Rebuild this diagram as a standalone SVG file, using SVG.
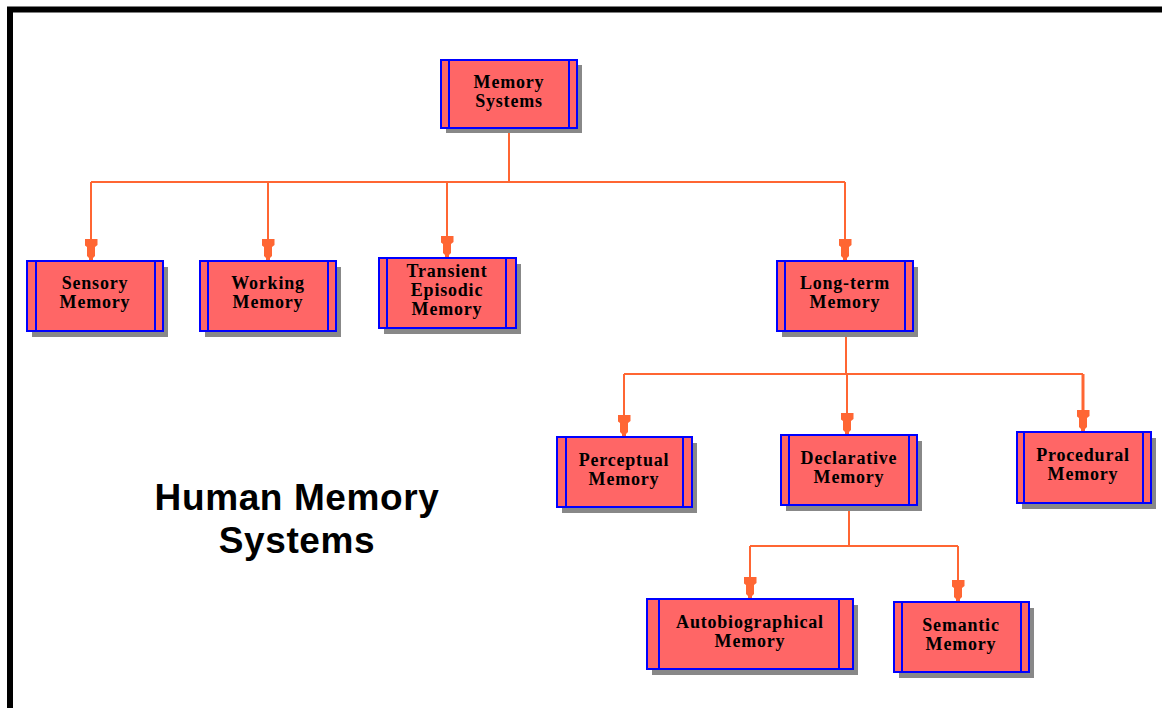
<svg xmlns="http://www.w3.org/2000/svg" width="1162" height="708" viewBox="0 0 1162 708">
<style>
.sh{fill:#888888}
.bx{fill:#FF6666;stroke:#0000FF;stroke-width:2}
.in{stroke:#0000FF;stroke-width:2}
.t{font-family:"Liberation Serif","Times New Roman",serif;font-weight:bold;font-size:18px;letter-spacing:0.8px;text-anchor:middle;fill:#000}
.c{fill:none;stroke:#FF6633;stroke-width:2}
.title{font-family:"Liberation Sans",Arial,sans-serif;font-weight:bold;font-size:37px;letter-spacing:0.6px;text-anchor:middle;fill:#000}
</style>
<defs>
<marker id="ah" markerUnits="userSpaceOnUse" markerWidth="22" markerHeight="13" refX="22" refY="6.5" orient="auto" viewBox="0 0 22 13">
<path d="M0,0 H6 L8,2.5 H17 L19,4.5 H22 V8.5 H19 L17,10.5 H8 L6,13 H0 Z" fill="#FF6633"/>
</marker>
</defs>
<rect x="0" y="0" width="1162" height="708" fill="#FFFFFF"/>
<rect x="10" y="9.5" width="1200" height="760" fill="none" stroke="#000" stroke-width="6"/>
<g id="connectors">
<path class="c" d="M509,128 V182 M91,182 H845 M846,331 V374 M624,374 H1083 M849,505 V546 M750,546 H958"/>
<path class="c" marker-end="url(#ah)" d="M91,182 V261"/>
<path class="c" marker-end="url(#ah)" d="M268,182 V261"/>
<path class="c" marker-end="url(#ah)" d="M447,182 V258"/>
<path class="c" marker-end="url(#ah)" d="M845,182 V261"/>
<path class="c" marker-end="url(#ah)" d="M624,374 V437"/>
<path class="c" marker-end="url(#ah)" d="M847,374 V435"/>
<path class="c" marker-end="url(#ah)" d="M1083,374 V432" style="stroke-width:3"/>
<path class="c" marker-end="url(#ah)" d="M750,546 V599"/>
<path class="c" marker-end="url(#ah)" d="M958,546 V602"/>
</g>
<g id="memory-systems">
<rect class="sh" x="446" y="65" width="136" height="68"/>
<rect class="bx" x="441" y="60" width="136" height="68"/>
<path class="in" d="M449,60 V128 M569,60 V128"/>
<text class="t" x="509" y="88">Memory</text>
<text class="t" x="509" y="107">Systems</text>
</g>
<g id="sensory">
<rect class="sh" x="32" y="267" width="136" height="70"/>
<rect class="bx" x="27" y="261" width="136" height="70"/>
<path class="in" d="M36,261 V331 M155,261 V331"/>
<text class="t" x="95" y="289">Sensory</text>
<text class="t" x="95" y="308">Memory</text>
</g>
<g id="working">
<rect class="sh" x="205" y="267" width="136" height="70"/>
<rect class="bx" x="200" y="261" width="136" height="70"/>
<path class="in" d="M208,261 V331 M328,261 V331"/>
<text class="t" x="268" y="289">Working</text>
<text class="t" x="268" y="308">Memory</text>
</g>
<g id="transient">
<rect class="sh" x="384" y="264" width="137" height="70"/>
<rect class="bx" x="379" y="258" width="137" height="70"/>
<path class="in" d="M387,258 V328 M506,258 V328"/>
<text class="t" x="447" y="277">Transient</text>
<text class="t" x="447" y="296">Episodic</text>
<text class="t" x="447" y="315">Memory</text>
</g>
<g id="long-term">
<rect class="sh" x="782" y="267" width="136" height="70"/>
<rect class="bx" x="777" y="261" width="136" height="70"/>
<path class="in" d="M785,261 V331 M905,261 V331"/>
<text class="t" x="845" y="289">Long-term</text>
<text class="t" x="845" y="308">Memory</text>
</g>
<g id="perceptual">
<rect class="sh" x="562" y="443" width="135" height="70"/>
<rect class="bx" x="557" y="437" width="135" height="70"/>
<path class="in" d="M566,437 V507 M683,437 V507"/>
<text class="t" x="624" y="466">Perceptual</text>
<text class="t" x="624" y="485">Memory</text>
</g>
<g id="declarative">
<rect class="sh" x="786" y="441" width="136" height="70"/>
<rect class="bx" x="781" y="435" width="136" height="70"/>
<path class="in" d="M789,435 V505 M909,435 V505"/>
<text class="t" x="849" y="464">Declarative</text>
<text class="t" x="849" y="483">Memory</text>
</g>
<g id="procedural">
<rect class="sh" x="1022" y="438" width="134" height="71"/>
<rect class="bx" x="1017" y="432" width="134" height="71"/>
<path class="in" d="M1024,432 V503 M1143,432 V503"/>
<text class="t" x="1083" y="461">Procedural</text>
<text class="t" x="1083" y="480">Memory</text>
</g>
<g id="autobiographical">
<rect class="sh" x="652" y="605" width="206" height="70"/>
<rect class="bx" x="647" y="599" width="206" height="70"/>
<path class="in" d="M659,599 V669 M839,599 V669"/>
<text class="t" x="750" y="628">Autobiographical</text>
<text class="t" x="750" y="647">Memory</text>
</g>
<g id="semantic">
<rect class="sh" x="899" y="608" width="135" height="70"/>
<rect class="bx" x="894" y="602" width="135" height="70"/>
<path class="in" d="M902,602 V672 M1021,602 V672"/>
<text class="t" x="961" y="631">Semantic</text>
<text class="t" x="961" y="650">Memory</text>
</g>
<g id="title">
<text class="title" x="297" y="510">Human Memory</text>
<text class="title" x="297" y="553">Systems</text>
</g>
</svg>
